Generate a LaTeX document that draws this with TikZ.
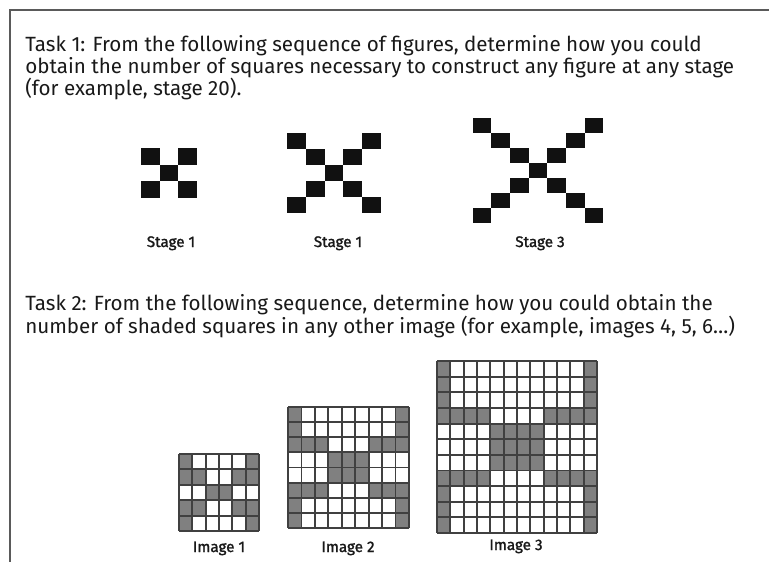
\documentclass[tikz,border=0pt]{standalone}
\usepackage{fontspec}
\setmainfont{Fira Sans}
\newfontfamily\lblfont[FakeBold=1.5]{Fira Sans}
\definecolor{framecol}{HTML}{5A5A5A}
\definecolor{cellgray}{HTML}{808080}
\definecolor{cellline}{HTML}{404040}
\definecolor{sqblack}{HTML}{111111}
\tikzset{
  frameline/.style={draw=framecol, line width=1.1pt},
  bodytext/.style={anchor=base west, inner sep=0pt, font=\fontsize{15.45pt}{18pt}\selectfont, text=black!90},
  lbltext/.style={anchor=base, inner sep=0pt, font=\lblfont\fontsize{11.4pt}{12pt}\selectfont, text=black!90},
  gridline/.style={draw=cellline, line width=1.4pt},
  xsq/.style={fill=sqblack}
}
\newcommand\xfigure[5]{% center x, center y, n, cell w, cell h
  \foreach \i in {-#3,...,#3}{
    \fill[xsq] ({#1+(\i-0.5)*#4},{#2+(\i-0.5)*#5}) rectangle ({#1+(\i+0.5)*#4},{#2+(\i+0.5)*#5});
    \fill[xsq] ({#1+(\i-0.5)*#4},{#2-(\i-0.5)*#5}) rectangle ({#1+(\i+0.5)*#4},{#2-(\i+0.5)*#5});
  }
}
\newcommand\gridimg[5]{% x0, y0, n, cell w, cell h
  \pgfmathtruncatemacro\gb{#3+1}
  \pgfmathtruncatemacro\gcols{3*\gb}
  \pgfmathtruncatemacro\grows{3*#3+2}
  \foreach \c in {1,...,\gcols}{
    \foreach \r in {1,...,\grows}{
      \def\rt{0}%
      \ifnum\r=\numexpr#3+1\relax \def\rt{1}\fi
      \ifnum\r=\numexpr2*#3+2\relax \def\rt{1}\fi
      \ifnum\r>\numexpr#3+1\relax \ifnum\r<\numexpr2*#3+2\relax \def\rt{2}\fi\fi
      \def\ct{1}%
      \ifnum\c=1 \def\ct{0}\fi
      \ifnum\c=\gcols\relax \def\ct{0}\fi
      \ifnum\c>\gb\relax \ifnum\c<\numexpr2*\gb+1\relax \def\ct{2}\fi\fi
      \def\cf{white}%
      \ifnum\rt=0 \ifnum\ct=0 \def\cf{cellgray}\fi\fi
      \ifnum\rt=1 \ifnum\ct<2 \def\cf{cellgray}\fi\fi
      \ifnum\rt=2 \ifnum\ct=2 \def\cf{cellgray}\fi\fi
      \fill[\cf] ({#1+(\c-1)*#4},{#2+(\r-1)*#5}) rectangle ({#1+\c*#4},{#2+\r*#5});
    }
  }
  \foreach \c in {0,...,\gcols}{
    \draw[gridline] ({#1+\c*#4},{#2}) -- ({#1+\c*#4},{#2+\grows*#5});
  }
  \foreach \r in {0,...,\grows}{
    \draw[gridline] ({#1},{#2+\r*#5}) -- ({#1+\gcols*#4},{#2+\r*#5});
  }
}
\begin{document}
\begin{tikzpicture}[x=0.75pt, y=-0.75pt]
\useasboundingbox (0,0) rectangle (769,562);
\fill[white] (0,0) rectangle (769,562);
% frame
\coordinate (fTL) at (10,10);
\coordinate (fTR) at (769,10);
\coordinate (fBL) at (10,562);
\draw[frameline] (fTR) -- (fTL) -- (fBL);
% Task 1 text
\node[bodytext] (t1a) at (25,51) {Task 1: From the following sequence of figures, determine how you could};
\node[bodytext] (t1b) at (25,73) {obtain the number of squares necessary to construct any figure at any stage};
\node[bodytext] (t1c) at (25,95) {(for example, stage 20).};
% X figures
\xfigure{169}{173}{1}{18.6}{16.7}
\xfigure{334}{173}{2}{18.8}{16}
\xfigure{538}{170}{3}{18.7}{15}
\node[lbltext] (s1) at (171,247) {Stage 1};
\node[lbltext] (s2) at (338,247) {Stage 1};
\node[lbltext] (s3) at (540,247) {Stage 3};
% Task 2 text
\node[bodytext] (t2a) at (25,310) {Task 2: From the following sequence, determine how you could obtain the};
\node[bodytext] (t2b) at (25,333) {number of shaded squares in any other image (for example, images 4, 5, 6\ldots)};
% grids
\gridimg{179}{454}{1}{13.33}{15.4}
\gridimg{288}{407}{2}{13.44}{15.125}
\gridimg{437}{361}{3}{13.33}{15.64}
\node[lbltext] (i1) at (219,552) {Image 1};
\node[lbltext] (i2) at (348,552) {Image 2};
\node[lbltext] (i3) at (516,550) {Image 3};
\end{tikzpicture}
\end{document}
